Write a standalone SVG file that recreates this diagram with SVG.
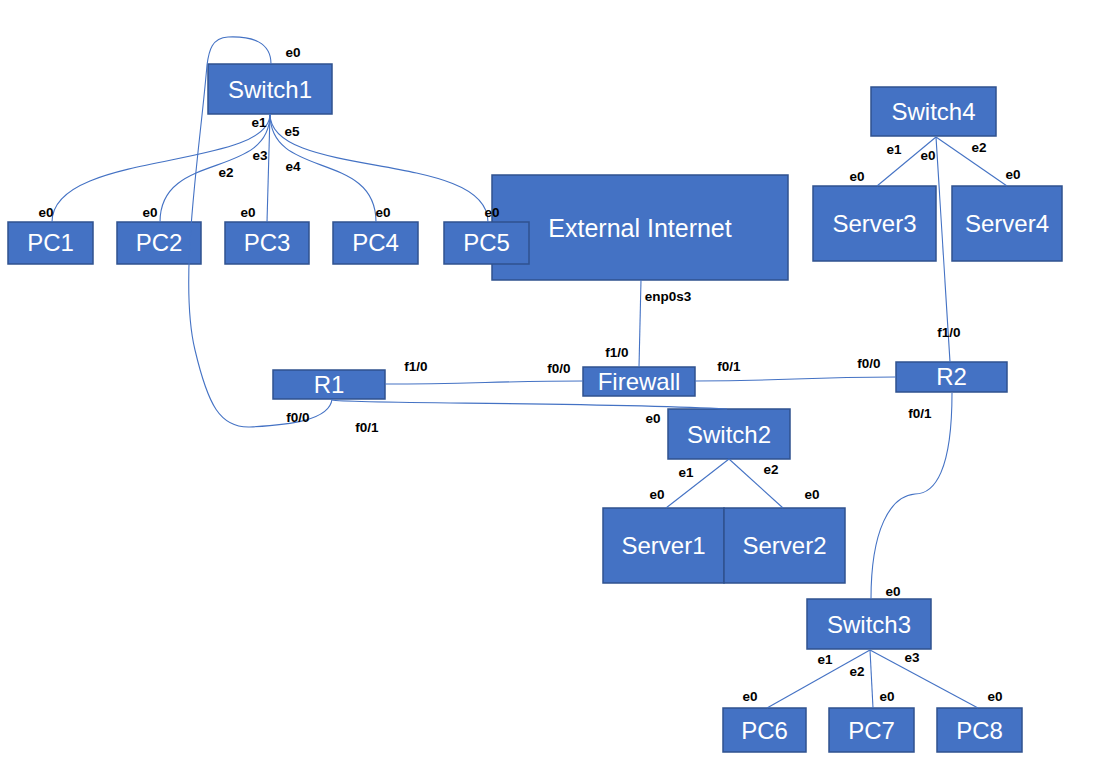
<svg xmlns="http://www.w3.org/2000/svg" width="1096" height="760" viewBox="0 0 1096 760">
  <style>
    .box { fill: #4472C4; stroke: #2F528F; stroke-width: 1.5; }
    .name { font-family: "Liberation Sans", Arial, sans-serif; font-size: 24px; fill: #ffffff; text-anchor: middle; }
    .port { font-family: "Liberation Sans", Arial, sans-serif; font-size: 13.5px; font-weight: bold; fill: #000000; text-anchor: middle; }
    .link { fill: none; stroke: #4472C4; stroke-width: 1.1; }
  </style>
  <rect width="1096" height="760" fill="#ffffff"/>

  <!-- devices -->
  <g id="switch1"><rect class="box" x="208" y="64" width="124" height="50"/><text class="name" x="270" y="98">Switch1</text></g>
  <g id="pc1"><rect class="box" x="8" y="222" width="85" height="42"/><text class="name" x="50.5" y="251">PC1</text></g>
  <g id="pc2"><rect class="box" x="117" y="222" width="84" height="42"/><text class="name" x="159" y="251">PC2</text></g>
  <g id="pc3"><rect class="box" x="225" y="222" width="84" height="42"/><text class="name" x="267" y="251">PC3</text></g>
  <g id="pc4"><rect class="box" x="333" y="222" width="85" height="42"/><text class="name" x="375.5" y="251">PC4</text></g>
  <g id="external-internet"><rect class="box" x="492" y="175" width="296" height="105"/><text class="name" x="640" y="237" style="font-size:25px">External Internet</text></g>
  <g id="pc5"><rect class="box" x="444" y="222" width="85" height="42"/><text class="name" x="486.5" y="251">PC5</text></g>
  <g id="r1"><rect class="box" x="273" y="370" width="112" height="29"/><text class="name" x="329" y="393">R1</text></g>
  <g id="firewall"><rect class="box" x="583" y="367" width="112" height="29"/><text class="name" x="639" y="390">Firewall</text></g>
  <g id="r2"><rect class="box" x="896" y="362" width="111" height="30"/><text class="name" x="951.5" y="385">R2</text></g>
  <g id="switch2"><rect class="box" x="668" y="409" width="122" height="50"/><text class="name" x="729" y="443">Switch2</text></g>
  <g id="server1"><rect class="box" x="603" y="508" width="121" height="75"/><text class="name" x="663.5" y="554">Server1</text></g>
  <g id="server2"><rect class="box" x="724" y="508" width="121" height="75"/><text class="name" x="784.5" y="554">Server2</text></g>
  <g id="switch4"><rect class="box" x="871" y="87" width="125" height="49"/><text class="name" x="933.5" y="120">Switch4</text></g>
  <g id="server3"><rect class="box" x="813" y="186" width="123" height="75"/><text class="name" x="874.5" y="232">Server3</text></g>
  <g id="server4"><rect class="box" x="952" y="186" width="110" height="75"/><text class="name" x="1007" y="232">Server4</text></g>
  <g id="switch3"><rect class="box" x="807" y="599" width="124" height="50"/><text class="name" x="869" y="633">Switch3</text></g>
  <g id="pc6"><rect class="box" x="723" y="708" width="83" height="44"/><text class="name" x="764.5" y="739">PC6</text></g>
  <g id="pc7"><rect class="box" x="829" y="708" width="85" height="44"/><text class="name" x="871.5" y="739">PC7</text></g>
  <g id="pc8"><rect class="box" x="937" y="708" width="85" height="44"/><text class="name" x="979.5" y="739">PC8</text></g>

  <!-- links -->
  <g id="connectors">
    <path class="link" d="M270,114 C270,170 52,150 52,222"/>
    <path class="link" d="M270,114 C270,180 160,150 160,222"/>
    <path class="link" d="M270,114 L267,222"/>
    <path class="link" d="M270,114 C270,180 376,150 376,222"/>
    <path class="link" d="M270,114 C270,180 488,150 488,222"/>
    <path class="link" d="M271,64 C271,42 252,36 228,37 C212,38 209,50 207,65 C200,150 178,280 195,350 C208,405 220,428 250,427 C290,425 330,420 332,399"/>
    <path class="link" d="M385,384 C470,384 500,381 583,381"/>
    <path class="link" d="M332,400 C350,404 600,402 727,409"/>
    <path class="link" d="M641,280 L639,367"/>
    <path class="link" d="M695,381 C790,381 800,377 896,377"/>
    <path class="link" d="M950,362 L936,137"/>
    <path class="link" d="M936,137 L877,186"/>
    <path class="link" d="M936,137 L1007,186"/>
    <path class="link" d="M952,393 C952,470 935,494 915,494 C890,496 871,530 871,599"/>
    <path class="link" d="M870,650 L767,708"/>
    <path class="link" d="M870,650 L873,708"/>
    <path class="link" d="M870,650 L978,708"/>
    <path class="link" d="M729,459 L666,508"/>
    <path class="link" d="M729,459 L783,508"/>
  </g>

  <!-- interface labels -->
  <g id="ports">
    <text class="port" x="293" y="57">e0</text>
    <text class="port" x="259" y="127">e1</text>
    <text class="port" x="292" y="136">e5</text>
    <text class="port" x="260" y="160">e3</text>
    <text class="port" x="226" y="177">e2</text>
    <text class="port" x="293" y="171">e4</text>
    <text class="port" x="46" y="217">e0</text>
    <text class="port" x="150" y="217">e0</text>
    <text class="port" x="248" y="217">e0</text>
    <text class="port" x="383" y="217">e0</text>
    <text class="port" x="492" y="217">e0</text>
    <text class="port" x="668" y="301">enp0s3</text>
    <text class="port" x="617" y="357">f1/0</text>
    <text class="port" x="559" y="373">f0/0</text>
    <text class="port" x="729" y="371">f0/1</text>
    <text class="port" x="416" y="371">f1/0</text>
    <text class="port" x="298" y="422">f0/0</text>
    <text class="port" x="367" y="432">f0/1</text>
    <text class="port" x="653" y="423">e0</text>
    <text class="port" x="686" y="477">e1</text>
    <text class="port" x="771" y="474">e2</text>
    <text class="port" x="657" y="499">e0</text>
    <text class="port" x="812" y="499">e0</text>
    <text class="port" x="894" y="154">e1</text>
    <text class="port" x="928" y="160">e0</text>
    <text class="port" x="979" y="152">e2</text>
    <text class="port" x="857" y="181">e0</text>
    <text class="port" x="1013" y="179">e0</text>
    <text class="port" x="949" y="337">f1/0</text>
    <text class="port" x="869" y="368">f0/0</text>
    <text class="port" x="920" y="418">f0/1</text>
    <text class="port" x="893" y="596">e0</text>
    <text class="port" x="825" y="664">e1</text>
    <text class="port" x="857" y="676">e2</text>
    <text class="port" x="912" y="662">e3</text>
    <text class="port" x="750" y="701">e0</text>
    <text class="port" x="887" y="701">e0</text>
    <text class="port" x="995" y="701">e0</text>
  </g>
</svg>
